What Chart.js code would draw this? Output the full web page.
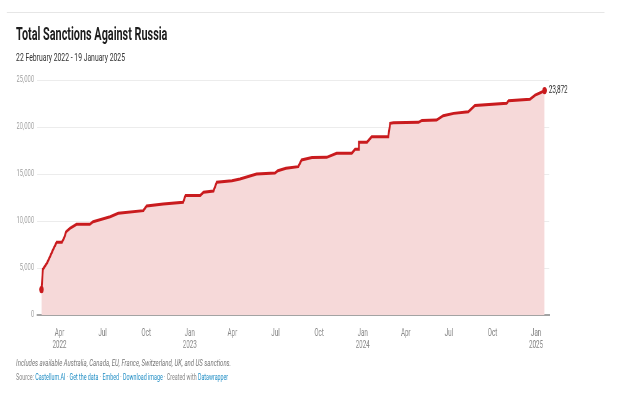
<!DOCTYPE html>
<html>
<head>
<meta charset="utf-8">
<script src="https://cdn.jsdelivr.net/npm/chart.js@4.4.1/dist/chart.umd.min.js"></script>
<style>
  html, body { margin: 0; padding: 0; background: #fff; overflow: hidden; }
  #page { position: absolute; left: 0; top: 0; width: 1003px; height: 399px;
          transform: scaleX(0.62); transform-origin: 0 0; font-family: Roboto, sans-serif; }
  #rule { position: absolute; left: 11px; top: 12px; width: 964px; height: 1px; background: #e6e6e6; }
  .txt { position: absolute; left: 26px; white-space: nowrap; line-height: 1; }
  #title { top: 26px; font-size: 17.5px; font-weight: bold; color: #1d1d1d; }
  #sub { top: 52px; font-size: 11px; color: #333; }
  #note { top: 358px; font-size: 9.7px; font-style: italic; color: #777; }
  #src { top: 373px; font-size: 8.6px; color: #888; }
  #src a { color: #1d8cc4; text-decoration: none; }
  canvas { position: absolute; left: 0; top: 0; }
</style>
</head>
<body>
<div id="page">
  <div id="rule"></div>
  <div class="txt" id="title">Total Sanctions Against Russia</div>
  <div class="txt" id="sub">22 February 2022 - 19 January 2025</div>
  <canvas id="chart" width="1003" height="399"></canvas>
  <div class="txt" id="note">Includes available Australia, Canada, EU, France, Switzerland, UK, and US sanctions.</div>
  <div class="txt" id="src">Source: <a>Castellum.AI</a> · <a>Get the data</a> · <a>Embed</a> · <a>Download image</a> · Created with <a>Datawrapper</a></div>
</div>
<script>
// total sanctions
const dates = [
  '2022-02-22', '2022-02-25', '2022-03-06', '2022-03-12', '2022-03-18', '2022-03-26',
  '2022-04-06', '2022-04-11', '2022-04-15', '2022-04-23', '2022-05-07', '2022-06-04',
  '2022-06-11', '2022-06-29', '2022-07-17', '2022-08-03', '2022-09-25', '2022-10-02',
  '2022-11-06', '2022-12-18', '2022-12-23', '2023-01-23', '2023-01-30', '2023-02-20',
  '2023-02-27', '2023-03-31', '2023-04-17', '2023-05-08', '2023-05-22', '2023-06-30',
  '2023-07-06', '2023-07-23', '2023-08-18', '2023-08-25', '2023-09-16', '2023-10-17',
  '2023-11-07', '2023-12-09', '2023-12-16', '2023-12-23', '2023-12-24', '2024-01-10',
  '2024-01-20', '2024-02-24', '2024-02-28', '2024-03-06', '2024-04-28', '2024-05-05',
  '2024-06-05', '2024-06-19', '2024-07-11', '2024-08-11', '2024-08-25', '2024-10-31',
  '2024-11-04', '2024-12-19', '2024-12-30', '2025-01-10', '2025-01-19'
];
const sanctions = [
  2700, 4860, 5560, 6200, 6900, 7730,
  7730, 8220, 8860, 9220, 9650, 9650,
  9930, 10180, 10460, 10820, 11100, 11600,
  11810, 12000, 12700, 12700, 13050, 13190,
  14120, 14290, 14470, 14790, 15000, 15100,
  15350, 15600, 15780, 16490, 16750, 16770,
  17200, 17200, 17630, 17630, 18370, 18370,
  18970, 18970, 20390, 20460, 20500, 20700,
  20740, 21200, 21450, 21630, 22300, 22520,
  22800, 22950, 23400, 23650, 23872
];

const tickDates = ['2022-04-01', '2022-07-01', '2022-10-01', '2023-01-01', '2023-04-01', '2023-07-01',
                   '2023-10-01', '2024-01-01', '2024-04-01', '2024-07-01', '2024-10-01', '2025-01-01'];
const tickMonths = ['Apr', 'Jul', 'Oct', 'Jan', 'Apr', 'Jul', 'Oct', 'Jan', 'Apr', 'Jul', 'Oct', 'Jan'];
const tickYears = ['2022', '', '', '2023', '', '', '', '2024', '', '', '', '2025'];
const yTicks = [0, 5000, 10000, 15000, 20000, 25000];

const start = Date.parse(dates[0]);
const dayOf = (d) => (Date.parse(d) - start) / 86400000;
const tickDays = tickDates.map(dayOf);
const points = dates.map((d, i) => ({ x: dayOf(d), y: sanctions[i] }));
const fmt = (v) => v.toLocaleString('en-US');

const endLabel = {
  id: 'endLabel',
  afterDatasetsDraw(chart) {
    const meta = chart.getDatasetMeta(0);
    const last = meta.data[meta.data.length - 1];
    const ctx = chart.ctx;
    ctx.save();
    ctx.font = '10px Roboto';
    ctx.fillStyle = '#333';
    ctx.textAlign = 'left';
    ctx.textBaseline = 'middle';
    ctx.fillText(fmt(sanctions[sanctions.length - 1]), last.x + 7, last.y);
    ctx.restore();
  }
};

new Chart(document.getElementById('chart'), {
  type: 'line',
  data: {
    datasets: [{
      data: points,
      borderColor: '#c91b1e',
      borderWidth: 3,
      backgroundColor: '#f6d9d9',
      fill: 'origin',
      tension: 0,
      pointRadius: (c) => (c.dataIndex === 0 || c.dataIndex === sanctions.length - 1) ? 3.6 : 0,
      pointBackgroundColor: '#c91b1e',
      pointBorderWidth: 0,
    }],
  },
  options: {
    responsive: false,
    animation: false,
    devicePixelRatio: 1,
    layout: { padding: { left: 0, top: 80, right: 117, bottom: 0 } },
    plugins: {
      legend: { display: false },
      tooltip: { enabled: false },
    },
    scales: {
      x: {
        type: 'linear',
        min: -9,
        max: 1072,
        afterFit: (s) => { s.height = 84; },
        afterBuildTicks: (s) => { s.ticks = tickDays.map((v) => ({ value: v })); },
        grid: { display: false },
        border: { display: true, color: '#a3a3a3', width: 2 },
        ticks: {
          autoSkip: false,
          maxRotation: 0,
          padding: 4,
          color: '#8a8a8a',
          font: { family: 'Roboto', size: 10 },
          callback: (v, i) => tickYears[i] ? [tickMonths[i], tickYears[i]] : tickMonths[i],
        },
      },
      y: {
        min: 0,
        max: 25000,
        afterFit: (s) => { s.width = 60; },
        afterBuildTicks: (s) => { s.ticks = yTicks.map((v) => ({ value: v })); },
        grid: { color: '#ececec', lineWidth: 1, drawTicks: false },
        border: { display: false },
        ticks: {
          padding: 5,
          color: '#9a9a9a',
          font: { family: 'Roboto', size: 9.5 },
          callback: (v) => fmt(v),
        },
      },
    },
  },
  plugins: [endLabel],
});
</script>
</body>
</html>
